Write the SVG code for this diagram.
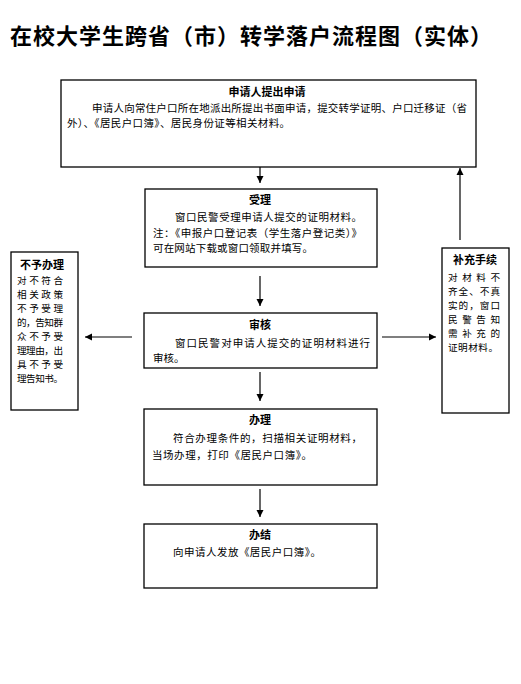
<svg xmlns="http://www.w3.org/2000/svg" width="521" height="684" viewBox="0 0 521 684">
<defs>
<marker id="ah" markerWidth="8" markerHeight="8" refX="7" refY="4" orient="auto" markerUnits="userSpaceOnUse">
<path d="M0,0.5 L7,4 L0,7.5 Z" fill="#000"/>
</marker>
<style>
.box{fill:#fff;stroke:#000;stroke-width:1.3}
.t{font-family:"Noto Sans CJK SC","Noto Sans CJK JP",sans-serif;font-size:10.5px;fill:#000}
.s{font-family:"Noto Sans CJK SC","Noto Sans CJK JP",sans-serif;font-size:9.6px;fill:#000}
.h{font-family:"Noto Sans CJK SC","Noto Sans CJK JP",sans-serif;font-size:11px;font-weight:bold;fill:#000;text-anchor:middle}
.c{stroke:#000;stroke-width:1.2;fill:none;marker-end:url(#ah)}
.title{font-family:"Noto Sans CJK SC","Noto Sans CJK JP",sans-serif;font-size:22px;font-weight:bold;fill:#000}
</style>
</defs>
<rect width="521" height="684" fill="#fff"/>
<text class="title" x="10" y="44" textLength="482" lengthAdjust="spacing">在校大学生跨省（市）转学落户流程图（实体）</text>

<g id="apply">
<rect class="box" x="61" y="80" width="415" height="87"/>
<text class="h" x="267" y="96">申请人提出申请</text>
<text class="t" x="92" y="112" textLength="375" lengthAdjust="spacing">申请人向常住户口所在地派出所提出书面申请，提交转学证明、户口迁移证（省</text>
<text class="t" x="67" y="127" textLength="223" lengthAdjust="spacing">外）、《居民户口簿》、居民身份证等相关材料。</text>
</g>

<g id="accept">
<rect class="box" x="145" y="189" width="232" height="78"/>
<text class="h" x="260" y="204">受理</text>
<text class="t" x="175" y="221" textLength="187" lengthAdjust="spacing">窗口民警受理申请人提交的证明材料。</text>
<text class="t" x="153" y="237" textLength="209" lengthAdjust="spacing">注：《申报户口登记表（学生落户登记类）》</text>
<text class="t" x="153" y="252" textLength="160" lengthAdjust="spacing">可在网站下载或窗口领取并填写。</text>
</g>

<g id="review">
<rect class="box" x="144" y="313" width="233" height="55"/>
<text class="h" x="260" y="329">审核</text>
<text class="t" x="175" y="347" textLength="195" lengthAdjust="spacing">窗口民警对申请人提交的证明材料进行</text>
<text class="t" x="153" y="362">审核。</text>
</g>

<g id="process">
<rect class="box" x="144" y="409" width="233" height="76"/>
<text class="h" x="260" y="424">办理</text>
<text class="t" x="173" y="442" textLength="189" lengthAdjust="spacing">符合办理条件的，扫描相关证明材料，</text>
<text class="t" x="152" y="459" textLength="160" lengthAdjust="spacing">当场办理，打印《居民户口簿》。</text>
</g>

<g id="finish">
<rect class="box" x="144" y="524" width="233" height="64"/>
<text class="h" x="260" y="539">办结</text>
<text class="t" x="173" y="556" textLength="148" lengthAdjust="spacing">向申请人发放《居民户口簿》。</text>
</g>

<g id="reject">
<rect class="box" x="11" y="252" width="67" height="158"/>
<text class="h" x="42" y="269">不予办理</text>
<text class="s" x="17" y="284" textLength="46" lengthAdjust="spacing">对不符合</text>
<text class="s" x="17" y="298" textLength="46" lengthAdjust="spacing">相关政策</text>
<text class="s" x="17" y="312" textLength="46" lengthAdjust="spacing">不予受理</text>
<text class="s" x="17" y="326" textLength="46" lengthAdjust="spacing">的，告知群</text>
<text class="s" x="17" y="340" textLength="46" lengthAdjust="spacing">众不予受</text>
<text class="s" x="17" y="354" textLength="46" lengthAdjust="spacing">理理由，出</text>
<text class="s" x="17" y="368" textLength="46" lengthAdjust="spacing">具不予受</text>
<text class="s" x="17" y="382" textLength="46" lengthAdjust="spacing">理告知书。</text>
</g>

<g id="supplement">
<rect class="box" x="442" y="248" width="67" height="165"/>
<text class="h" x="475" y="264">补充手续</text>
<text class="s" x="448" y="281" textLength="52" lengthAdjust="spacing">对材料不</text>
<text class="s" x="448" y="295" textLength="52" lengthAdjust="spacing">齐全、不真</text>
<text class="s" x="448" y="309" textLength="52" lengthAdjust="spacing">实的，窗口</text>
<text class="s" x="448" y="323" textLength="52" lengthAdjust="spacing">民警告知</text>
<text class="s" x="448" y="337" textLength="52" lengthAdjust="spacing">需补充的</text>
<text class="s" x="448" y="351" textLength="50" lengthAdjust="spacing">证明材料。</text>
</g>

<g id="connectors">
<line class="c" x1="260" y1="167" x2="260" y2="183"/>
<line class="c" x1="260" y1="276" x2="260" y2="306"/>
<line class="c" x1="132" y1="337" x2="85" y2="337"/>
<line class="c" x1="382" y1="337" x2="436" y2="337"/>
<line class="c" x1="260" y1="372" x2="260" y2="401"/>
<line class="c" x1="260" y1="489" x2="260" y2="517"/>
<line class="c" x1="460" y1="240" x2="460" y2="168"/>
</g>
</svg>
